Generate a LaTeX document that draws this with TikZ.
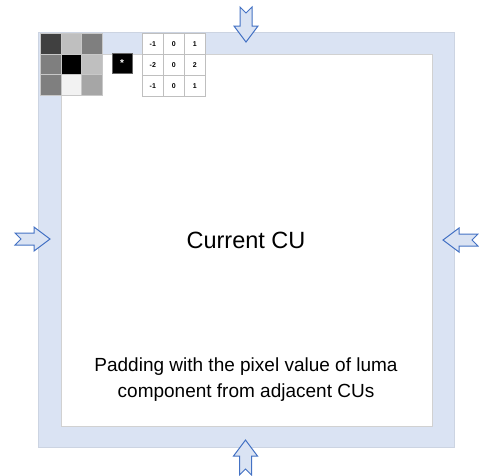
\documentclass[tikz,border=0pt]{standalone}
\usepackage{fontspec}
\setmainfont{Liberation Sans}
\usetikzlibrary{positioning}
\definecolor{bandblue}{HTML}{DAE3F3}
\definecolor{arrowline}{HTML}{4472C4}
\definecolor{cellline}{HTML}{C8C8C8}
\tikzset{
  band/.style={fill=bandblue, draw=bandblue!85!gray, line width=0.6pt},
  innerbox/.style={fill=white, draw=black!18, line width=0.8pt},
  pixcell/.style={draw=cellline, line width=0.8pt, minimum width=20.7pt, minimum height=20.7pt, inner sep=0pt, anchor=north west},
  kcell/.style={draw=black!25, fill=white, line width=0.6pt, minimum width=21pt, minimum height=21pt, inner sep=0pt, anchor=north west, font=\fontsize{7}{8}\selectfont\bfseries},
  notcharrow/.style={fill=bandblue, draw=arrowline, line width=1pt, line join=miter},
  bigtext/.style={font=\fontsize{23.5}{28}\selectfont, align=center},
  midtext/.style={font=\fontsize{19}{26}\selectfont, align=center}
}
\newcommand\ntarrow[3]{%
  \draw[notcharrow, shift={(#1,#2)}, rotate=#3]
    (-17.5,-6) -- (1.5,-6) -- (1.5,-12) -- (17.5,0) -- (1.5,12) -- (1.5,6) -- (-17.5,6) -- (-11.5,0) -- cycle;}
\begin{document}
\begin{tikzpicture}[x=1pt,y=-1pt]
\useasboundingbox (0,0) rectangle (479,475);
% outer band and inner CU
\draw[band] (38,32) rectangle (454,447);
\draw[innerbox] (61,54) rectangle (432,426);
% pixel grid
\foreach \r/\c/\col in {0/0/404040,0/1/BFBFBF,0/2/7F7F7F,1/0/7F7F7F,1/1/000000,1/2/BFBFBF,2/0/7F7F7F,2/1/F2F2F2,2/2/A6A6A6}{
  \definecolor{tmpc}{HTML}{\col}
  \node[pixcell, fill=tmpc] (p\r\c) at ({40+20.7*\c},{33+20.7*\r}) {};
}
% convolution sign
\node[fill=black, draw=black!60, minimum width=20pt, minimum height=20pt, inner sep=0pt, text=white, font=\fontsize{10}{10}\selectfont\bfseries] (star) at (122,63) {*};
% kernel
\foreach \r/\c/\v in {0/0/-1,0/1/0,0/2/1,1/0/-2,1/1/0,1/2/2,2/0/-1,2/1/0,2/2/1}{
  \node[kcell] (k\r\c) at ({142+21*\c},{33+21*\r}) {\v};
}
% texts
\node[bigtext] (cu) at (246,240) {Current CU};
\node[midtext] (pad) at (246,380) {Padding with the pixel value of luma\\component from adjacent CUs};
% arrows
\ntarrow{246}{24.5}{-90}
\ntarrow{245.5}{457.5}{90}
\ntarrow{32.5}{239}{0}
\ntarrow{460.5}{240}{180}
\end{tikzpicture}
\end{document}
